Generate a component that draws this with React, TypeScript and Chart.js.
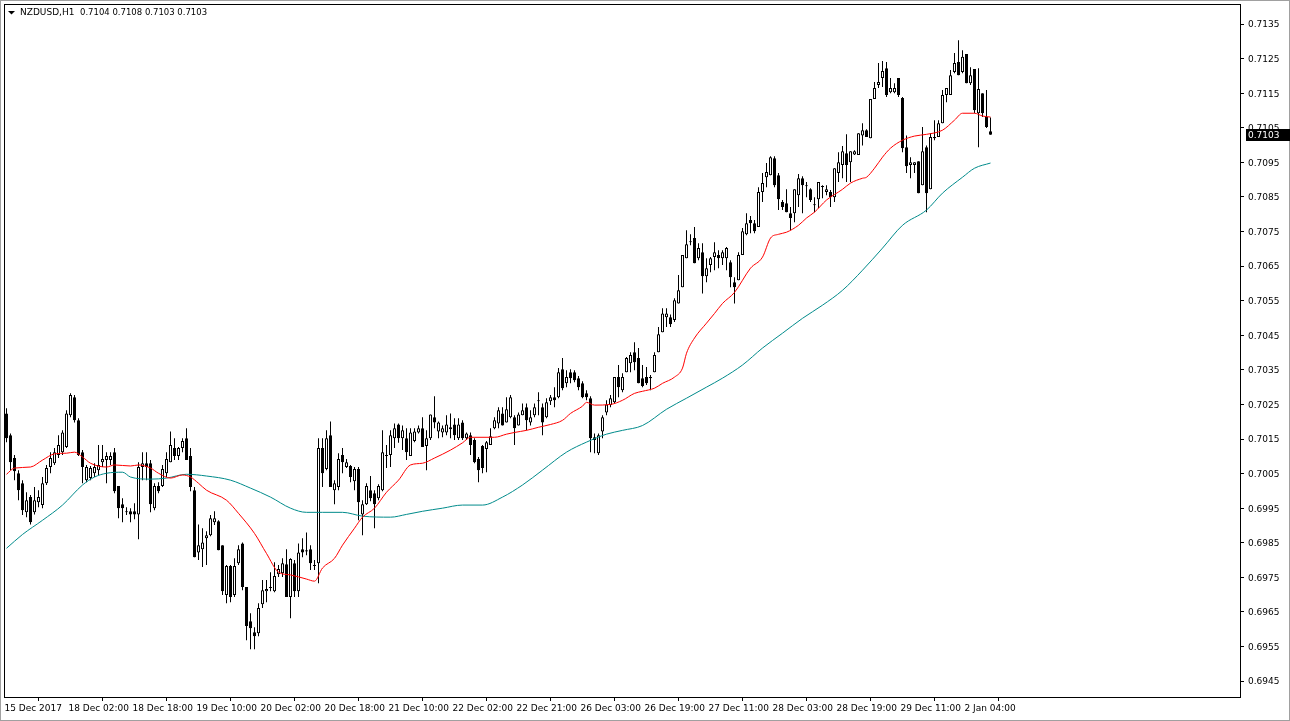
import React, { useEffect, useRef } from "react";
import { Chart, registerables } from "chart.js";

Chart.register(...registerables);

const symbol = "NZDUSD,H1";

const tickBars = [0, 16, 32, 48, 64, 80, 96, 112, 128, 144, 160, 176, 192, 208, 224, 240];
const tickLabels = [
  "15 Dec 2017", "18 Dec 02:00", "18 Dec 18:00", "19 Dec 10:00", "20 Dec 02:00", "20 Dec 18:00",
  "21 Dec 10:00", "22 Dec 02:00", "22 Dec 21:00", "26 Dec 03:00", "26 Dec 19:00", "27 Dec 11:00",
  "28 Dec 03:00", "28 Dec 19:00", "29 Dec 11:00", "2 Jan 04:00",
];
const priceTicks = [
  0.6945, 0.6955, 0.6965, 0.6975, 0.6985, 0.6995, 0.7005, 0.7015, 0.7025, 0.7035,
  0.7045, 0.7055, 0.7065, 0.7075, 0.7085, 0.7095, 0.7105, 0.7115, 0.7125, 0.7135,
];

const opens = [
  0.70224,0.70161,0.70095,0.70051,0.70022,0.69938,0.69982,0.69938,0.69967,0.69959,
  0.70022,0.70069,0.70080,0.70104,0.70112,0.70127,0.70219,0.70271,0.70204,0.70112,
  0.70031,0.70037,0.70051,0.70060,0.70083,0.70089,0.70089,0.70112,0.70014,0.69961,
  0.69941,0.69941,0.69941,0.69932,0.70069,0.70080,0.70080,0.69950,0.70014,0.70014,
  0.70051,0.70083,0.70124,0.70101,0.70124,0.70152,0.70101,0.70002,0.69822,0.69831,
  0.69863,0.69872,0.69909,0.69912,0.69843,0.69699,0.69783,0.69699,0.69791,0.69848,
  0.69722,0.69623,0.69591,0.69588,0.69672,0.69710,0.69719,0.69710,0.69759,0.69762,
  0.69788,0.69693,0.69791,0.69710,0.69831,0.69828,0.69831,0.69786,0.69791,0.70124,
  0.70063,0.70161,0.70002,0.70011,0.70104,0.70069,0.70072,0.70028,0.70063,0.69932,
  0.69961,0.70002,0.69993,0.69979,0.70002,0.70104,0.70104,0.70152,0.70192,0.70152,
  0.70152,0.70101,0.70144,0.70169,0.70181,0.70130,0.70152,0.70213,0.70172,0.70169,
  0.70169,0.70184,0.70192,0.70152,0.70198,0.70152,0.70161,0.70147,0.70092,0.70130,
  0.70121,0.70133,0.70181,0.70195,0.70224,0.70198,0.70213,0.70213,0.70189,0.70219,
  0.70242,0.70198,0.70219,0.70259,0.70242,0.70213,0.70259,0.70271,0.70271,0.70352,
  0.70311,0.70343,0.70343,0.70326,0.70311,0.70282,0.70268,0.70155,0.70109,0.70172,
  0.70227,0.70248,0.70256,0.70329,0.70291,0.70343,0.70369,0.70401,0.70384,0.70326,
  0.70329,0.70329,0.70343,0.70401,0.70459,0.70502,0.70502,0.70494,0.70542,0.70589,
  0.70673,0.70719,0.70731,0.70673,0.70690,0.70621,0.70653,0.70676,0.70682,0.70673,
  0.70673,0.70661,0.70603,0.70609,0.70682,0.70742,0.70783,0.70774,0.70763,0.70864,
  0.70907,0.70913,0.70962,0.70913,0.70835,0.70832,0.70803,0.70803,0.70855,0.70904,
  0.70884,0.70872,0.70829,0.70843,0.70881,0.70864,0.70864,0.70849,0.70919,0.70942,
  0.70976,0.70950,0.70973,0.70971,0.71028,0.71043,0.71020,0.71133,0.71174,0.71194,
  0.71222,0.71153,0.71153,0.71194,0.71136,0.70994,0.70942,0.70942,0.70953,0.70884,
  0.70994,0.70872,0.71023,0.71023,0.71063,0.71145,0.71145,0.71211,0.71240,0.71211,
  0.71263,0.71179,0.71220,0.71092,0.71150,0.71081,0.71040,
];
const highs = [
  0.70239,0.70166,0.70104,0.70060,0.70031,0.69996,0.69988,0.70011,0.70002,0.70040,
  0.70075,0.70112,0.70124,0.70161,0.70175,0.70233,0.70282,0.70277,0.70210,0.70118,
  0.70075,0.70072,0.70080,0.70133,0.70133,0.70112,0.70112,0.70124,0.70014,0.69979,
  0.69953,0.69950,0.69964,0.70083,0.70112,0.70112,0.70089,0.70022,0.70025,0.70075,
  0.70112,0.70172,0.70152,0.70127,0.70152,0.70181,0.70124,0.70011,0.69903,0.69892,
  0.69883,0.69930,0.69941,0.69915,0.69843,0.69786,0.69786,0.69805,0.69843,0.69851,
  0.69722,0.69646,0.69606,0.69675,0.69742,0.69742,0.69765,0.69794,0.69786,0.69805,
  0.69831,0.69805,0.69800,0.69848,0.69863,0.69880,0.69843,0.69800,0.70152,0.70152,
  0.70175,0.70201,0.70031,0.70109,0.70124,0.70092,0.70075,0.70069,0.70069,0.69973,
  0.70022,0.70043,0.70002,0.70019,0.70175,0.70133,0.70175,0.70195,0.70195,0.70189,
  0.70181,0.70181,0.70181,0.70189,0.70213,0.70175,0.70221,0.70274,0.70201,0.70189,
  0.70219,0.70224,0.70210,0.70210,0.70204,0.70169,0.70169,0.70152,0.70098,0.70133,
  0.70144,0.70181,0.70213,0.70242,0.70242,0.70271,0.70277,0.70219,0.70227,0.70253,
  0.70253,0.70233,0.70253,0.70285,0.70253,0.70268,0.70277,0.70300,0.70355,0.70384,
  0.70349,0.70352,0.70349,0.70332,0.70317,0.70291,0.70274,0.70166,0.70166,0.70219,
  0.70262,0.70277,0.70329,0.70364,0.70340,0.70387,0.70401,0.70430,0.70413,0.70364,
  0.70358,0.70335,0.70401,0.70474,0.70528,0.70528,0.70510,0.70557,0.70624,0.70682,
  0.70754,0.70742,0.70763,0.70716,0.70716,0.70673,0.70676,0.70719,0.70696,0.70696,
  0.70705,0.70667,0.70618,0.70690,0.70760,0.70803,0.70795,0.70783,0.70878,0.70919,
  0.70948,0.70968,0.70968,0.70919,0.70841,0.70872,0.70821,0.70872,0.70916,0.70910,
  0.70893,0.70875,0.70849,0.70893,0.70884,0.70884,0.70870,0.70933,0.70979,0.70997,
  0.71031,0.70982,0.70985,0.71034,0.71063,0.71046,0.71133,0.71182,0.71237,0.71243,
  0.71240,0.71194,0.71179,0.71194,0.71139,0.71028,0.70965,0.70950,0.70953,0.71052,
  0.70999,0.71034,0.71072,0.71072,0.71159,0.71165,0.71217,0.71266,0.71303,0.71274,
  0.71263,0.71225,0.71220,0.71222,0.71150,0.71159,0.71080,
];
const lows = [
  0.70141,0.70060,0.70031,0.69973,0.69930,0.69924,0.69903,0.69932,0.69953,0.69950,
  0.70017,0.70051,0.70075,0.70095,0.70104,0.70124,0.70213,0.70198,0.70101,0.70022,
  0.70025,0.70031,0.70040,0.70046,0.70069,0.70022,0.70075,0.69993,0.69921,0.69909,
  0.69930,0.69909,0.69918,0.69860,0.70031,0.70031,0.69938,0.69944,0.69993,0.70011,
  0.70040,0.70083,0.70089,0.70089,0.70112,0.70089,0.69999,0.69808,0.69800,0.69780,
  0.69786,0.69869,0.69901,0.69828,0.69699,0.69675,0.69678,0.69693,0.69786,0.69713,
  0.69568,0.69542,0.69542,0.69580,0.69661,0.69678,0.69710,0.69707,0.69751,0.69751,
  0.69693,0.69632,0.69693,0.69693,0.69808,0.69814,0.69771,0.69771,0.69733,0.70011,
  0.70060,0.70011,0.69961,0.70002,0.70051,0.70066,0.70025,0.70002,0.69915,0.69872,
  0.69959,0.69970,0.69892,0.69973,0.69999,0.70066,0.70069,0.70124,0.70139,0.70118,
  0.70089,0.70101,0.70141,0.70166,0.70127,0.70060,0.70147,0.70181,0.70152,0.70155,
  0.70161,0.70152,0.70147,0.70147,0.70147,0.70147,0.70104,0.70080,0.70025,0.70051,
  0.70054,0.70133,0.70178,0.70181,0.70189,0.70198,0.70210,0.70133,0.70189,0.70219,
  0.70175,0.70189,0.70213,0.70219,0.70161,0.70210,0.70248,0.70242,0.70268,0.70291,
  0.70300,0.70311,0.70314,0.70291,0.70268,0.70262,0.70112,0.70109,0.70104,0.70152,
  0.70219,0.70242,0.70253,0.70271,0.70285,0.70343,0.70343,0.70349,0.70311,0.70300,
  0.70306,0.70291,0.70343,0.70401,0.70459,0.70474,0.70474,0.70488,0.70542,0.70589,
  0.70673,0.70710,0.70658,0.70667,0.70571,0.70603,0.70632,0.70638,0.70644,0.70653,
  0.70638,0.70589,0.70542,0.70609,0.70682,0.70739,0.70745,0.70745,0.70763,0.70835,
  0.70878,0.70913,0.70878,0.70812,0.70812,0.70806,0.70754,0.70777,0.70821,0.70803,
  0.70849,0.70835,0.70806,0.70818,0.70846,0.70855,0.70821,0.70835,0.70893,0.70904,
  0.70893,0.70893,0.70971,0.70971,0.70999,0.71023,0.71020,0.71133,0.71165,0.71168,
  0.71139,0.71150,0.71150,0.71139,0.70979,0.70919,0.70904,0.70919,0.70861,0.70884,
  0.70806,0.70872,0.71014,0.71023,0.71063,0.71124,0.71145,0.71208,0.71202,0.71208,
  0.71179,0.71174,0.71092,0.70994,0.71081,0.71049,0.71030,
];
const closes = [
  0.70152,0.70083,0.70057,0.70002,0.69944,0.69973,0.69909,0.69973,0.69982,0.70022,
  0.70066,0.70095,0.70112,0.70133,0.70169,0.70224,0.70277,0.70204,0.70104,0.70069,
  0.70069,0.70066,0.70069,0.70075,0.70092,0.70101,0.70101,0.69999,0.69950,0.69950,
  0.69938,0.69932,0.69932,0.70069,0.70080,0.70069,0.69961,0.70014,0.69999,0.70063,
  0.70092,0.70133,0.70101,0.70124,0.70144,0.70089,0.70011,0.69808,0.69843,0.69851,
  0.69872,0.69921,0.69921,0.69828,0.69710,0.69783,0.69693,0.69783,0.69831,0.69722,
  0.69609,0.69603,0.69580,0.69661,0.69713,0.69716,0.69722,0.69754,0.69774,0.69791,
  0.69693,0.69803,0.69710,0.69822,0.69822,0.69825,0.69791,0.69783,0.70124,0.70051,
  0.70152,0.70011,0.70022,0.70092,0.70083,0.70083,0.70040,0.70063,0.69967,0.69961,
  0.70014,0.69979,0.69961,0.70014,0.70112,0.70101,0.70161,0.70181,0.70152,0.70175,
  0.70112,0.70169,0.70172,0.70181,0.70127,0.70152,0.70221,0.70198,0.70198,0.70181,
  0.70192,0.70178,0.70161,0.70192,0.70152,0.70166,0.70133,0.70083,0.70060,0.70066,
  0.70141,0.70158,0.70204,0.70233,0.70189,0.70236,0.70271,0.70181,0.70221,0.70233,
  0.70204,0.70213,0.70242,0.70262,0.70198,0.70256,0.70271,0.70262,0.70343,0.70297,
  0.70329,0.70326,0.70320,0.70300,0.70271,0.70271,0.70152,0.70147,0.70161,0.70213,
  0.70250,0.70268,0.70329,0.70300,0.70329,0.70384,0.70393,0.70372,0.70311,0.70303,
  0.70311,0.70326,0.70393,0.70453,0.70513,0.70513,0.70482,0.70551,0.70580,0.70682,
  0.70713,0.70722,0.70658,0.70702,0.70621,0.70644,0.70673,0.70690,0.70673,0.70690,
  0.70702,0.70618,0.70589,0.70682,0.70751,0.70774,0.70774,0.70751,0.70864,0.70890,
  0.70922,0.70965,0.70884,0.70843,0.70821,0.70806,0.70789,0.70872,0.70904,0.70884,
  0.70881,0.70841,0.70826,0.70893,0.70879,0.70872,0.70849,0.70933,0.70950,0.70982,
  0.70942,0.70982,0.70982,0.71034,0.71043,0.71023,0.71133,0.71165,0.71182,0.71214,
  0.71145,0.71165,0.71165,0.71145,0.70991,0.70939,0.70950,0.70950,0.70861,0.70982,
  0.70861,0.71023,0.71020,0.71063,0.71145,0.71165,0.71202,0.71237,0.71202,0.71255,
  0.71179,0.71202,0.71101,0.71162,0.71092,0.71052,0.71030,
];

const redMaBars = [
  0, 2, 6, 9, 12, 15, 17, 19, 21, 25, 27, 31, 33, 36, 38, 41, 44, 46, 48, 50, 55, 58, 62, 65, 68, 71,
  75, 77, 79, 82, 84, 87, 89, 92, 95, 98, 101, 104, 107, 111, 114, 116, 122, 125, 127, 130, 133, 136,
  139, 141, 144, 145, 147, 151, 154, 157, 159, 162, 164, 167, 169, 170, 172, 175, 177, 179, 182, 186,
  189, 191, 193, 195, 198, 200, 202, 205, 209, 211, 214, 215, 217, 219, 221, 224, 227, 230, 234, 237,
  239, 242, 244, 246,
];
const redMaValues = [
  0.70048, 0.70066, 0.70069, 0.70089, 0.70107, 0.70109, 0.70112, 0.70098, 0.70080, 0.70069, 0.70075,
  0.70072, 0.70075, 0.70066, 0.70051, 0.70037, 0.70046, 0.70040, 0.70022, 0.70002, 0.69973, 0.69935,
  0.69877, 0.69819, 0.69765, 0.69757, 0.69745, 0.69739, 0.69777, 0.69805, 0.69843, 0.69892, 0.69924,
  0.69950, 0.69996, 0.70031, 0.70075, 0.70080, 0.70095, 0.70118, 0.70139, 0.70155, 0.70155, 0.70164,
  0.70169, 0.70175, 0.70184, 0.70192, 0.70204, 0.70224, 0.70245, 0.70256, 0.70248, 0.70250, 0.70262,
  0.70282, 0.70288, 0.70297, 0.70311, 0.70329, 0.70355, 0.70398, 0.70442, 0.70485, 0.70513, 0.70542,
  0.70574, 0.70644, 0.70676, 0.70731, 0.70742, 0.70748, 0.70768, 0.70789, 0.70806, 0.70841, 0.70872,
  0.70890, 0.70904, 0.70907, 0.70933, 0.70965, 0.70991, 0.71014, 0.71026, 0.71031, 0.71043, 0.71072,
  0.71092, 0.71092, 0.71084, 0.71081,
];
const tealMaBars = [
  0, 4, 9, 14, 19, 22, 25, 29, 31, 36, 40, 45, 50, 56, 61, 66, 71, 75, 79, 84, 89, 96, 100, 104, 109,
  114, 119, 124, 129, 134, 140, 145, 150, 154, 159, 165, 170, 175, 179, 184, 189, 194, 199, 204, 209,
  214, 219, 224, 230, 234, 239, 242, 246,
];
const tealMaValues = [
  0.69834, 0.69874, 0.69915, 0.69959, 0.70017, 0.70040, 0.70051, 0.70054, 0.70040, 0.70034, 0.70037,
  0.70048, 0.70043, 0.70031, 0.70008, 0.69982, 0.69950, 0.69938, 0.69938, 0.69938, 0.69927, 0.69924,
  0.69932, 0.69941, 0.69950, 0.69959, 0.69959, 0.69982, 0.70017, 0.70060, 0.70112, 0.70141, 0.70164,
  0.70175, 0.70189, 0.70236, 0.70268, 0.70300, 0.70326, 0.70364, 0.70413, 0.70456, 0.70499, 0.70537,
  0.70580, 0.70638, 0.70702, 0.70768, 0.70812, 0.70861, 0.70907, 0.70933, 0.70948,
];

const FONT = "DejaVu Sans";

export default function App() {
  const ref = useRef<HTMLCanvasElement>(null);

  useEffect(() => {
    document.body.style.margin = "0";
    const canvas = ref.current;
    if (!canvas) return;

    const n = opens.length;
    const bodies = opens.map((o, i) => ({ x: i, y: [o, closes[i]] }));
    const wicks = lows.map((l, i) => ({ x: i, y: [l, highs[i]] }));
    const bodyColors = opens.map((o, i) => (closes[i] >= o ? "#ffffff" : "#000000"));
    const redMa = redMaBars.map((b, i) => ({ x: b, y: redMaValues[i] }));
    const tealMa = tealMaBars.map((b, i) => ({ x: b, y: tealMaValues[i] }));

    const mtPlugin = {
      id: "mt4",
      beforeDraw(chart: any) {
        const c = chart.ctx;
        c.save();
        c.fillStyle = "#ffffff";
        c.fillRect(0, 0, chart.width, chart.height);
        c.restore();
      },
      afterDraw(chart: any) {
        const c = chart.ctx;
        const a = chart.chartArea;
        c.save();
        // plot frame
        c.strokeStyle = "#000000";
        c.lineWidth = 1;
        c.strokeRect(a.left - 0.5, a.top - 0.5, a.right - a.left + 1, a.bottom - a.top + 1);
        // window border
        c.strokeStyle = "#a0a0a0";
        c.strokeRect(0.5, 0.5, chart.width - 1, chart.height - 1);
        // title
        c.fillStyle = "#000000";
        c.beginPath();
        c.moveTo(8, 11);
        c.lineTo(15, 11);
        c.lineTo(11.5, 14.5);
        c.closePath();
        c.fill();
        c.textBaseline = "middle";
        c.textAlign = "left";
        const last = n - 1;
        c.font = `9px "${FONT}"`;
        c.fillText(symbol, 20, 13);
        c.font = `8.5px "${FONT}"`;
        const vals = `${opens[last].toFixed(4)} ${highs[last].toFixed(4)} ${lows[last].toFixed(4)} ${closes[last].toFixed(4)}`;
        c.fillText(vals, 80, 13);
        // current price box
        const yPix = chart.scales.y.getPixelForValue(closes[last]);
        const top = Math.round(yPix) - 6;
        c.fillStyle = "#000000";
        c.fillRect(a.right + 6, top, chart.width - (a.right + 6), 12);
        c.fillStyle = "#ffffff";
        c.font = `9px "${FONT}"`;
        c.fillText(closes[last].toFixed(4), a.right + 8, top + 6.5);
        c.restore();
      },
    };

    const chart = new Chart(canvas, {
      type: "bar",
      data: {
        datasets: [
          {
            type: "line",
            data: redMa,
            borderColor: "#ff0000",
            borderWidth: 1,
            pointRadius: 0,
            cubicInterpolationMode: "monotone",
            order: 0,
          } as any,
          {
            type: "line",
            data: tealMa,
            borderColor: "#008b8b",
            borderWidth: 1,
            pointRadius: 0,
            cubicInterpolationMode: "monotone",
            order: 0,
          } as any,
          {
            type: "bar",
            data: bodies,
            backgroundColor: bodyColors,
            borderColor: "#000000",
            borderWidth: 1,
            borderSkipped: false,
            barThickness: 3,
            grouped: false,
            minBarLength: 1,
            inflateAmount: 0,
            order: 1,
          } as any,
          {
            type: "bar",
            data: wicks,
            backgroundColor: "#000000",
            borderWidth: 0,
            barThickness: 1,
            grouped: false,
            inflateAmount: 0,
            order: 2,
          } as any,
        ],
      },
      options: {
        responsive: false,
        devicePixelRatio: 1,
        animation: false,
        events: [],
        layout: { padding: { left: 5, top: 5, right: 0, bottom: 0 } },
        plugins: { legend: { display: false }, tooltip: { enabled: false }, title: { display: false } },
        scales: {
          x: {
            type: "linear",
            min: -0.375,
            max: 308.375,
            offset: false,
            afterBuildTicks: (s: any) => {
              s.ticks = tickBars.map((v) => ({ value: v }));
            },
            afterFit: (s: any) => {
              s.height = 24;
              s.paddingLeft = 0;
              s.paddingRight = 0;
            },
            ticks: {
              autoSkip: false,
              maxRotation: 0,
              minRotation: 0,
              align: "start",
              padding: 2,
              labelOffset: -2,
              color: "#000000",
              font: { family: FONT, size: 9 },
              callback: (v: any) => {
                const k = tickBars.indexOf(Number(v));
                return k >= 0 ? tickLabels[k] : "";
              },
            },
            grid: { drawOnChartArea: false, drawTicks: true, tickLength: 4, color: "#000000" },
            border: { display: false },
          },
          y: {
            type: "linear",
            position: "right",
            min: 0.69404,
            max: 0.71405,
            afterBuildTicks: (s: any) => {
              s.ticks = priceTicks.map((v) => ({ value: v }));
            },
            afterFit: (s: any) => {
              s.width = 50;
              s.paddingTop = 0;
              s.paddingBottom = 0;
            },
            ticks: {
              padding: 4,
              labelOffset: 1,
              color: "#000000",
              font: { family: FONT, size: 9 },
              callback: (v: any) => Number(v).toFixed(4),
            },
            grid: { drawOnChartArea: false, drawTicks: true, tickLength: 4, color: "#000000" },
            border: { display: false },
          },
        },
      } as any,
      plugins: [mtPlugin],
    });

    return () => chart.destroy();
  }, []);

  return (
    <canvas
      ref={ref}
      width={1290}
      height={721}
      style={{ display: "block", width: 1290, height: 721 }}
    />
  );
}
